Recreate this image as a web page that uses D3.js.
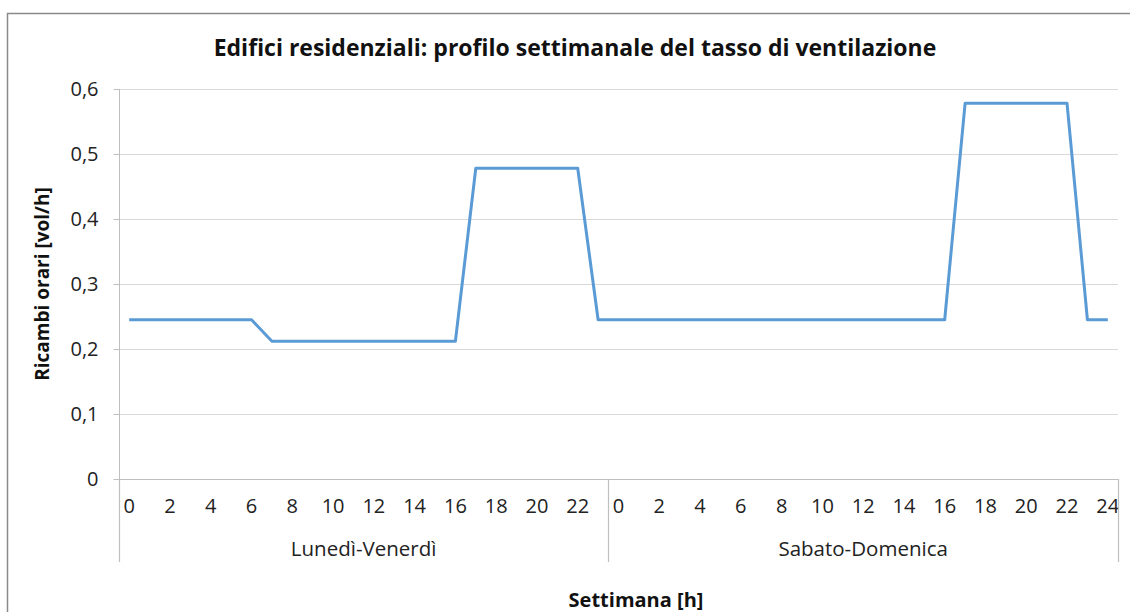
<!DOCTYPE html>
<html><head><meta charset="utf-8">
<script src="https://cdn.jsdelivr.net/npm/d3@7"></script>
<style>body{margin:0;background:#fff}svg{display:block}text{font-family:"Open Sans","Noto Sans",sans-serif}</style>
</head><body>
<svg id="c" width="1130" height="612"></svg>
<script>
const title = "Edifici residenziali: profilo settimanale del tasso di ventilazione";
const yTitle = "Ricambi orari [vol/h]";
const xTitle = "Settimana [h]";
const groups = ["Lunedì-Venerdì", "Sabato-Domenica"];
const hoursWeekday = d3.range(0, 24);
const hoursWeekend = d3.range(0, 25);
const valuesWeekday = [0.245,0.245,0.245,0.245,0.245,0.245,0.245,0.212,0.212,0.212,0.212,0.212,0.212,0.212,0.212,0.212,0.212,0.478,0.478,0.478,0.478,0.478,0.478,0.245];
const valuesWeekend = [0.245,0.245,0.245,0.245,0.245,0.245,0.245,0.245,0.245,0.245,0.245,0.245,0.245,0.245,0.245,0.245,0.245,0.578,0.578,0.578,0.578,0.578,0.578,0.245,0.245];
const yTicks = [0,0.1,0.2,0.3,0.4,0.5,0.6];

const data = [];
hoursWeekday.forEach((h,i)=>data.push({key:"a"+h, g:0, h, v:valuesWeekday[i]}));
hoursWeekend.forEach((h,i)=>data.push({key:"b"+h, g:1, h, v:valuesWeekend[i]}));

const svg = d3.select("#c");
const L=119, R=1118, T=89, B=479;
const x = d3.scaleBand().domain(data.map(d=>d.key)).range([L,R]).paddingInner(0).paddingOuter(0);
const y = d3.scaleLinear().domain([0,0.6]).range([B,T]);

// outer border
svg.append("path").attr("d",`M7.5,612 V13.5 H1130`).attr("fill","none").attr("stroke","#8a8a8a").attr("stroke-width",1.5);

// gridlines
svg.append("g").selectAll("line").data(yTicks.filter(t=>t>0)).join("line")
  .attr("x1",L).attr("x2",R).attr("y1",d=>Math.round(y(d))+0.5).attr("y2",d=>Math.round(y(d))+0.5)
  .attr("stroke","#d9d9d9").attr("stroke-width",1.2);

// y axis
const ya = svg.append("g").attr("transform",`translate(${L+0.5},0)`)
  .call(d3.axisLeft(y).tickValues(yTicks).tickSize(6).tickPadding(8).tickFormat(d=>d3.format(".1f")(d).replace(".",",").replace(/^0,0$/,"0")));
ya.select(".domain").attr("stroke","#bfbfbf").attr("d",`M0,${T} V${B}`);
ya.selectAll(".tick line").attr("stroke","#bfbfbf");
ya.selectAll(".tick text").attr("font-size",20).attr("fill","#222").attr("dy","0.3em").attr("x",-21);

// x axis
const xa = svg.append("g").attr("transform",`translate(0,${B+0.5})`)
  .call(d3.axisBottom(x).tickSize(0).tickPadding(33).tickFormat(k=>{const d=data.find(e=>e.key===k);return d.h%2===0?d.h:"";}));
xa.select(".domain").attr("stroke","#bfbfbf").attr("d",`M${L},0 H${R}`);
xa.selectAll(".tick text").attr("font-size",20).attr("fill","#222").attr("dy","0");

// group separators
const bounds = [L, x("b0"), R];
svg.append("g").selectAll("line").data(bounds).join("line")
  .attr("x1",d=>Math.round(d)+0.5).attr("x2",d=>Math.round(d)+0.5).attr("y1",B).attr("y2",562)
  .attr("stroke","#bfbfbf").attr("stroke-width",1.2);
svg.append("g").selectAll("text").data(groups).join("text")
  .attr("x",(d,i)=>(bounds[i]+bounds[i+1])/2).attr("y",556)
  .attr("text-anchor","middle").attr("font-size",20.5).attr("fill","#222").text(d=>d);

// line
const line = d3.line().x(d=>x(d.key)+x.bandwidth()/2).y(d=>y(d.v));
svg.append("path").datum(data).attr("d",line).attr("fill","none")
  .attr("stroke","#5b9bd5").attr("stroke-width",3).attr("stroke-linejoin","round");

// titles
svg.append("text").attr("x",575).attr("y",56).attr("text-anchor","middle").attr("font-size",23).attr("font-weight","bold").attr("fill","#111").text(title);
svg.append("text").attr("x",636).attr("y",607).attr("text-anchor","middle").attr("font-size",20).attr("font-weight","bold").attr("fill","#111").text(xTitle);
svg.append("text").attr("transform","translate(49,284) rotate(-90)").attr("text-anchor","middle").attr("font-size",19).attr("font-weight","bold").attr("fill","#111").text(yTitle);
</script>
</body></html>
